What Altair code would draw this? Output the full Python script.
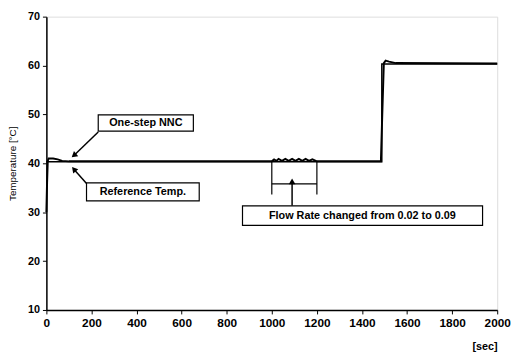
import altair as alt
import pandas as pd

# Controlled temperature (One-step NNC)
nnc_t = [0, 3, 6, 10, 30, 50, 70, 100, 1000, 1010, 1020, 1030, 1045, 1060, 1075, 1090,
         1105, 1120, 1135, 1150, 1165, 1180, 1200, 1484, 1490, 1497, 1505, 1520, 1550, 2000]
nnc_v = [30, 36, 40.5, 41, 41, 40.8, 40.5, 40.4, 40.4, 40.8, 40.5, 40.9, 40.5, 40.9, 40.5, 40.9,
         40.5, 40.9, 40.5, 40.9, 40.5, 40.8, 40.4, 40.4, 50, 60.5, 61, 60.8, 60.5, 60.4]
# Reference temperature
ref_t = [0, 1488, 1488, 2000]
ref_v = [40.3, 40.3, 60.3, 60.3]

x_ticks = list(range(0, 2001, 200))
y_ticks = list(range(10, 71, 10))

# annotation boxes (data units)
box_x = [230, 178, 870]
box_x2 = [652, 678, 1935]
box_y = [49.9, 36.0, 31.3]
box_y2 = [46.6, 32.3, 27.3]
box_tx = [441, 428, 1402]
box_ty = [48.25, 34.15, 29.3]
box_text = ["One-step NNC", "Reference Temp.", "Flow Rate changed from 0.02 to 0.09"]

# arrows (data units)
arr_x = [230, 183, 1090]
arr_y = [46.4, 35.6, 31.3]
arr_x2 = [122, 122, 1090]
arr_y2 = [41.6, 38.8, 36.3]
arr_angle = [230, 320, 0]

# bracket around flow change region
br_x = [1000, 1200, 1000]
br_x2 = [1000, 1200, 1200]
br_y = [40.4, 40.4, 35.8]
br_y2 = [33.6, 33.6, 35.8]

df_nnc = pd.DataFrame({"t": nnc_t, "v": nnc_v})
df_ref = pd.DataFrame({"t": ref_t, "v": ref_v})
df_box = pd.DataFrame({"x": box_x, "x2": box_x2, "y": box_y, "y2": box_y2,
                       "tx": box_tx, "ty": box_ty, "text": box_text})
df_arr = pd.DataFrame({"x": arr_x, "y": arr_y, "x2": arr_x2, "y2": arr_y2, "a": arr_angle})
df_br = pd.DataFrame({"x": br_x, "x2": br_x2, "y": br_y, "y2": br_y2})

FONT = "Liberation Sans Narrow, Liberation Sans, Arial, sans-serif"

xs = alt.Scale(domain=[0, 2000], nice=False, zero=False)
ys = alt.Scale(domain=[10, 70], nice=False, zero=False)

xax = alt.Axis(values=x_ticks, format="d", title="[sec]", titleAnchor="end", titlePadding=12,
               titleFontSize=11, titleFontWeight="bold", titleFont=FONT, titleColor="black",
               labelFont=FONT, labelFontSize=12, labelFontWeight="bold", labelColor="black",
               domainColor="black", domainWidth=1.5, tickColor="black", tickSize=4,
               labelFlush=False, labelPadding=4, grid=False)
yax = alt.Axis(values=y_ticks, format="d", title="Temperature [°C]", titlePadding=10,
               titleFontSize=10, titleFontWeight="normal", titleFont=FONT, titleColor="black",
               labelFont=FONT, labelFontSize=11, labelFontWeight="bold", labelColor="black",
               domainColor="black", domainWidth=1.5, tickColor="black", tickSize=4,
               labelPadding=3, grid=False)

ref_line = alt.Chart(df_ref).mark_line(color="black", strokeWidth=1.5).encode(
    x=alt.X("t:Q", scale=xs, axis=xax),
    y=alt.Y("v:Q", scale=ys, axis=yax),
)
nnc_line = alt.Chart(df_nnc).mark_line(color="black", strokeWidth=2).encode(
    x=alt.X("t:Q", scale=xs), y=alt.Y("v:Q", scale=ys)
)

bracket = alt.Chart(df_br).mark_rule(color="black", strokeWidth=1.2).encode(
    x=alt.X("x:Q", scale=xs), x2="x2:Q", y=alt.Y("y:Q", scale=ys), y2="y2:Q"
)
arrows = alt.Chart(df_arr).mark_rule(color="black", strokeWidth=1.5).encode(
    x=alt.X("x:Q", scale=xs), x2="x2:Q", y=alt.Y("y:Q", scale=ys), y2="y2:Q"
)
heads = alt.Chart(df_arr).mark_point(shape="triangle-up", filled=True, color="black",
                                     size=45, opacity=1).encode(
    x=alt.X("x2:Q", scale=xs), y=alt.Y("y2:Q", scale=ys), angle=alt.Angle("a:Q", scale=None)
)
boxes = alt.Chart(df_box).mark_rect(fill="white", stroke="black", strokeWidth=1.2).encode(
    x=alt.X("x:Q", scale=xs), x2="x2:Q", y=alt.Y("y:Q", scale=ys), y2="y2:Q"
)
texts = alt.Chart(df_box).mark_text(font=FONT, fontSize=11, fontWeight="bold",
                                    color="black").encode(
    x=alt.X("tx:Q", scale=xs), y=alt.Y("ty:Q", scale=ys), text="text:N"
)

chart = alt.layer(ref_line, nnc_line, bracket, arrows, heads, boxes, texts).properties(
    width=458, height=298,
    autosize=alt.AutoSizeParams(type="none"),
    padding={"left": 39, "top": 6, "right": 14, "bottom": 46},
).configure_view(stroke="black", strokeWidth=1.5).configure(background="white")

chart.save("out.html", embed_options={"renderer": "svg", "actions": False})
